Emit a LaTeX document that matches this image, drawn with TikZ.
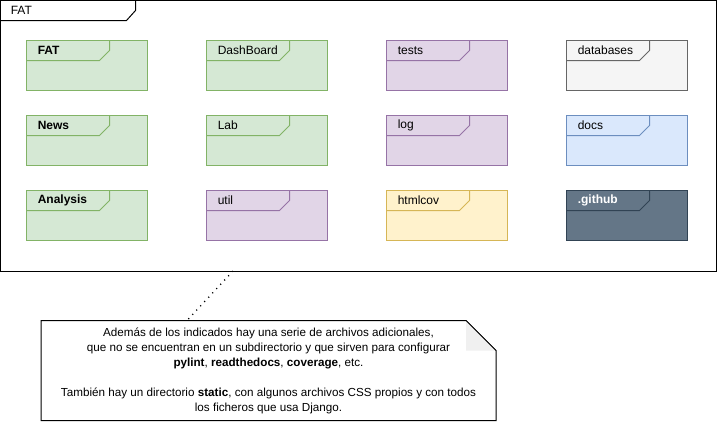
\documentclass[tikz,border=0pt]{standalone}
\usepackage{fontspec}
\setmainfont{Liberation Sans}
\usepackage{tikz}
\usetikzlibrary{calc}

\definecolor{grnfill}{HTML}{D5E8D4}
\definecolor{grnline}{HTML}{82B366}
\definecolor{purfill}{HTML}{E1D5E7}
\definecolor{purline}{HTML}{9673A6}
\definecolor{gryfill}{HTML}{F5F5F5}
\definecolor{gryline}{HTML}{666666}
\definecolor{blufill}{HTML}{DAE8FC}
\definecolor{bluline}{HTML}{6C8EBF}
\definecolor{yelfill}{HTML}{FFF2CC}
\definecolor{yelline}{HTML}{D6B656}
\definecolor{drkfill}{HTML}{647687}
\definecolor{drkline}{HTML}{314354}

\tikzset{
  x=0.75pt, y=-0.75pt,
  every node/.style={font=\fontsize{9}{11.25}\selectfont},
  pkg/.style={draw, line width=0.75pt, minimum width=90.75pt, minimum height=37.5pt,
    inner sep=0pt, outer sep=0pt, anchor=north west},
  lbl/.style={anchor=west, inner sep=0pt},
  grn/.style={fill=grnfill, draw=grnline},
  pur/.style={fill=purfill, draw=purline},
  gry/.style={fill=gryfill, draw=gryline},
  blu/.style={fill=blufill, draw=bluline},
  yel/.style={fill=yelfill, draw=yelline},
  drk/.style={fill=drkfill, draw=drkline},
}

% name, colour style, x, y, label
\newcommand{\umlpkg}[5]{%
  \node [pkg, #2] (#1) at (#3,#4) {};
  \draw [#2, fill=none, line width=0.75pt] (#1.north west) ++(0,20) -- ++(73,0) -- ++(10,-10) -- ++(0,-10);
  \node [lbl] (#1-lbl) at ($(#1.north west)+(11,10)$) {#5};
}

\begin{document}
\begin{tikzpicture}
    \useasboundingbox (0,0) rectangle (717,421);

    % outer frame
    \node [draw, line width=0.75pt, minimum width=536.625pt, minimum height=202.875pt,
      inner sep=0pt, outer sep=0pt, anchor=north west] (sys) at (0.5,0.5) {};
    \draw [line width=0.75pt] (sys.north west) ++(0,20) -- ++(126,0) -- ++(9,-10) -- ++(0,-10);
    \node [lbl] (sys-lbl) at ($(sys.north west)+(10,10)$) {FAT};

    % first row
    \umlpkg{fat}{grn}{26.5}{40.5}{\bfseries FAT}
    \umlpkg{dashboard}{grn}{206.5}{40.5}{DashBoard}
    \umlpkg{tests}{pur}{386.5}{40.5}{tests}
    \umlpkg{databases}{gry}{566.5}{40.5}{databases}

    % second row
    \umlpkg{news}{grn}{26.5}{115.5}{\bfseries News}
    \umlpkg{lab}{grn}{206.5}{115.5}{Lab}
    \umlpkg{log}{pur}{386.5}{115.5}{log}
    \umlpkg{docs}{blu}{566.5}{115.5}{docs}

    % third row
    \umlpkg{analysis}{grn}{26.5}{190.5}{\bfseries Analysis}
    \umlpkg{util}{pur}{206.5}{190.5}{util}
    \umlpkg{htmlcov}{yel}{386.5}{190.5}{htmlcov}
    \umlpkg{github}{drk}{566.5}{190.5}{\color{white}\bfseries .github}

    % note
    \node [minimum width=341.25pt, minimum height=75pt, inner sep=0pt, outer sep=0pt, align=center,
      font=\fontsize{8.75}{11.25}\selectfont] (remark) at (268.5,370.5)
      {Además de los indicados hay una serie de archivos adicionales,\\
       que no se encuentran en un subdirectorio y que sirven para configurar\\
       \textbf{pylint}, \textbf{readthedocs}, \textbf{coverage}, etc.\\[11.25pt]
       También hay un directorio \textbf{static}, con algunos archivos CSS propios y con todos\\
       los ficheros que usa Django.};
    \draw [line width=0.75pt] (remark.north west) -- ($(remark.north east)+(-30,0)$) -- ($(remark.north east)+(0,30)$)
      -- (remark.south east) -- (remark.south west) -- cycle;
    \fill [black!6] ($(remark.north east)+(-30,0)$) -- ($(remark.north east)+(-30,30)$) -- ($(remark.north east)+(0,30)$) -- cycle;
    \draw [line width=0.75pt] ($(remark.north east)+(-30,0)$) -- ($(remark.north east)+(0,30)$);

    \draw [line width=1pt, dash pattern=on 0.8pt off 3.6pt] ($(sys.south west)+(232.5,0)$) -- ($(remark.north west)+(146,0)$);
\end{tikzpicture}
\end{document}
